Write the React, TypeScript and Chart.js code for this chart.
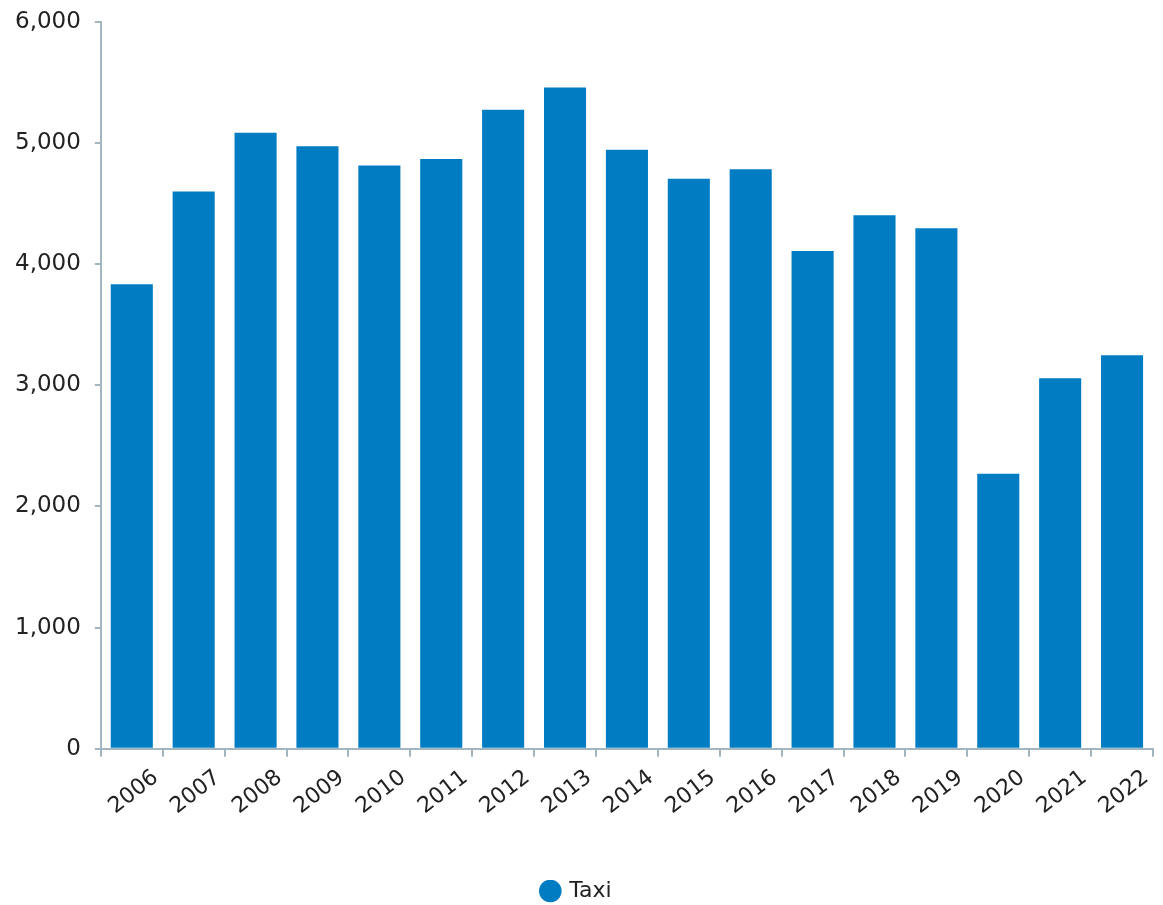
import React, { useEffect, useRef } from "react";
import { Chart, registerables } from "chart.js";

Chart.register(...registerables);

const years = ["2006","2007","2008","2009","2010","2011","2012","2013","2014","2015","2016","2017","2018","2019","2020","2021","2022"];
const taxi = [3835, 4600, 5085, 4975, 4815, 4868, 5275, 5460, 4945, 4705, 4785, 4110, 4405, 4298, 2270, 3058, 3248];

const AXIS = "#a3b5bf";
const BAR = "#007cc3";
const TEXT = "#222222";
const FONT = "'DejaVu Sans', sans-serif";

export default function App() {
  const ref = useRef<HTMLCanvasElement | null>(null);
  useEffect(() => {
    document.body.style.margin = "0";
    const chart = new Chart(ref.current!, {
      type: "bar",
      data: {
        labels: years,
        datasets: [
          {
            label: "Taxi",
            data: taxi,
            backgroundColor: BAR,
            borderWidth: 0,
            barPercentage: 0.68,
            categoryPercentage: 1,
          },
        ],
      },
      options: {
        animation: false,
        responsive: false,
        maintainAspectRatio: false,
        layout: { padding: { top: 0, right: 10, left: 1, bottom: 0 } },
        plugins: {
          tooltip: { enabled: false },
          legend: {
            position: "bottom",
            labels: {
              usePointStyle: true,
              pointStyle: "circle",
              boxWidth: 16,
              boxHeight: 16,
              padding: 0,
              color: TEXT,
              font: { family: FONT, size: 22 },
            },
          },
        },
        scales: {
          x: {
            grid: { display: true, drawOnChartArea: false, drawTicks: true, tickLength: 8, color: AXIS, lineWidth: 2, offset: true },
            border: { display: true, color: AXIS, width: 2 },
            ticks: {
              color: TEXT,
              font: { family: FONT, size: 22 },
              maxRotation: 38,
              minRotation: 38,
              padding: 8,
              labelOffset: 24,
              autoSkip: false,
            },
            afterFit: (scale: any) => {
              scale.height += 52;
            },
          },
          y: {
            min: 0,
            max: 6000,
            grid: { display: true, drawOnChartArea: false, drawTicks: true, tickLength: 6, color: AXIS, lineWidth: 2 },
            border: { display: true, color: AXIS, width: 2 },
            ticks: {
              stepSize: 1000,
              color: TEXT,
              font: { family: FONT, size: 23 },
              padding: 14,
              callback: (v: any) => Number(v).toLocaleString("en-US"),
            },
            afterFit: (scale: any) => {
              scale.paddingTop = 22;
            },
          },
        },
      },
    });
    return () => chart.destroy();
  }, []);
  return (
    <div style={{ width: 1163, height: 905, overflow: "hidden" }}>
      <canvas ref={ref} width={1163} height={912} style={{ display: "block" }} />
    </div>
  );
}
